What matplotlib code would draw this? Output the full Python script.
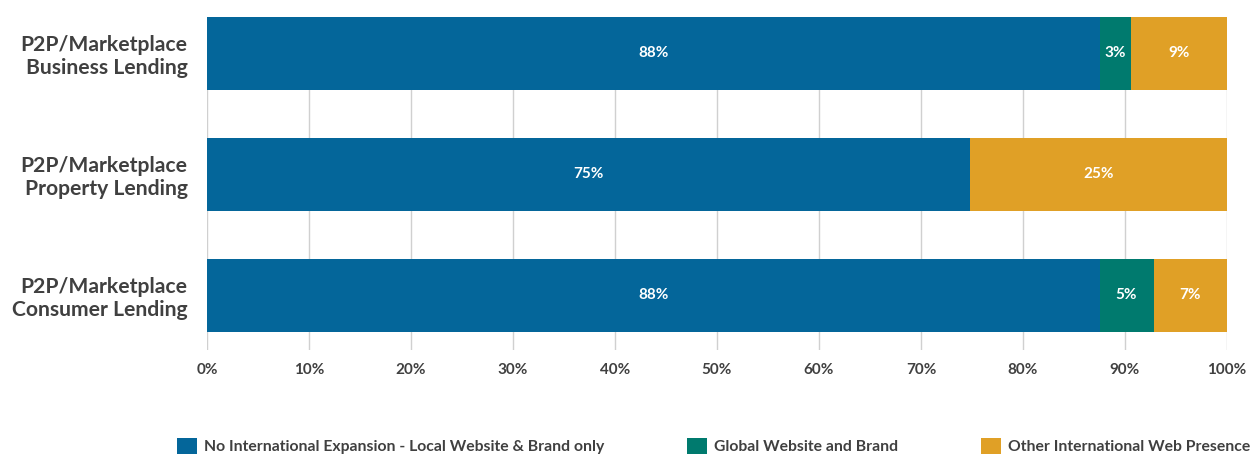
import numpy as np
import matplotlib.pyplot as plt

plt.rcParams['font.family'] = ['Lato', 'DejaVu Sans']

categories = ["P2P/Marketplace\nConsumer Lending",
              "P2P/Marketplace\nProperty Lending",
              "P2P/Marketplace\nBusiness Lending"]
series_names = ["No International Expansion - Local Website & Brand only",
                "Global Website and Brand",
                "Other International Web Presence"]
local_only = [87.5, 74.8, 87.5]
global_site = [5.3, 0.0, 3.1]
other_web = [7.2, 25.2, 9.4]
local_labels = ["88%", "75%", "88%"]
global_labels = ["5%", "", "3%"]
other_labels = ["7%", "25%", "9%"]
tick_labels = ["0%", "10%", "20%", "30%", "40%", "50%",
               "60%", "70%", "80%", "90%", "100%"]

colors = ["#04669A", "#007A6E", "#E0A026"]
text_col = "#404040"

fig = plt.figure(figsize=(12.6, 4.57), dpi=100)
ax = fig.add_axes([207 / 1260, 1 - 350 / 457, 1020 / 1260, 333 / 457])

y = np.arange(len(categories))
left = np.zeros(len(categories))
all_vals = [local_only, global_site, other_web]
all_labels = [local_labels, global_labels, other_labels]
for vals, labs, col, name in zip(all_vals, all_labels, colors, series_names):
    vals = np.array(vals)
    bars = ax.barh(y, vals, left=left, height=0.6, color=col, label=name, zorder=3)
    for b, lab in zip(bars, labs):
        if lab:
            ax.text(b.get_x() + b.get_width() / 2, b.get_y() + b.get_height() / 2, lab,
                    ha='center', va='center', color='white', fontsize=11,
                    fontweight='bold', zorder=4)
    left = left + vals

ax.set_xlim(0, 100)
ax.set_ylim(2.3 - 333 / 121, 2.3)
ax.set_xticks(np.arange(0, 101, 10))
ax.set_xticklabels(tick_labels, fontsize=11, fontweight='bold', color=text_col)
ax.set_yticks(y)
ax.set_yticklabels(categories, fontsize=15.2, fontweight='bold', color=text_col,
                   linespacing=1.15)
ax.tick_params(axis='x', length=0, pad=9)
ax.tick_params(axis='y', length=0, pad=14)
ax.grid(axis='x', color='#d0d0d0', linewidth=1, zorder=0)
for s in ax.spines.values():
    s.set_visible(False)

leg = fig.legend(loc='center', bbox_to_anchor=(0.5665, 11 / 457), ncol=3, frameon=False,
                 prop={'size': 11.3, 'weight': 'bold'}, handlelength=1.25,
                 handleheight=1.25, handletextpad=0.45, columnspacing=5.3)
for t in leg.get_texts():
    t.set_color(text_col)

fig.savefig("out.png", dpi=100)
